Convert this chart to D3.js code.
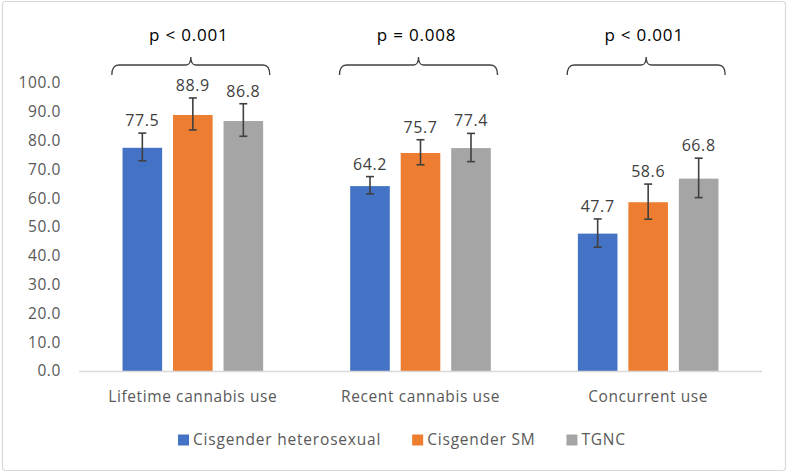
<!DOCTYPE html>
<html>
<head>
<meta charset="utf-8">
<script src="https://cdn.jsdelivr.net/npm/d3@7"></script>
<style>
  body { margin: 0; background: #fff; }
  svg { display: block; font-family: "Open Sans", sans-serif; }
</style>
</head>
<body>
<svg id="chart" width="789" height="474"></svg>
<script>
// data
var categories = ["Lifetime cannabis use", "Recent cannabis use", "Concurrent use"];
var groups = ["Cisgender heterosexual", "Cisgender SM", "TGNC"];
var heteroVals = [77.5, 64.2, 47.7];
var smVals = [88.9, 75.7, 58.6];
var tgncVals = [86.8, 77.4, 66.8];
// 95% CI ends
var heteroLow = [73.0, 61.5, 43.0], heteroHigh = [82.6, 67.5, 52.8];
var smLow = [83.7, 71.6, 52.7], smHigh = [94.8, 80.3, 64.9];
var tgncLow = [81.5, 72.7, 60.2], tgncHigh = [92.8, 82.5, 73.9];
var pLabels = ["p < 0.001", "p = 0.008", "p < 0.001"];
var yTicks = [0, 10, 20, 30, 40, 50, 60, 70, 80, 90, 100];
var colors = ["#4472C4", "#ED7D31", "#A5A5A5"];

var vals = [heteroVals, smVals, tgncVals];
var lows = [heteroLow, smLow, tgncLow];
var highs = [heteroHigh, smHigh, tgncHigh];

var svg = d3.select("svg#chart");
var margin = {top: 83, right: 27, bottom: 103, left: 79};
var width = 789 - margin.left - margin.right;
var height = 474 - margin.top - margin.bottom;

// border
svg.append("rect")
  .attr("x", 2.5).attr("y", 1.5)
  .attr("width", 783).attr("height", 469)
  .attr("rx", 3)
  .attr("fill", "none")
  .attr("stroke", "#d9d9d9")
  .attr("stroke-width", 1.2);

var g = svg.append("g")
  .attr("transform", `translate(${margin.left},${margin.top})`);

var x0 = d3.scaleBand().domain(categories).range([0, width]);
var x1 = d3.scaleBand().domain(groups)
  .range([0, x0.bandwidth()])
  .paddingInner(0.216).paddingOuter(0.862);
var y = d3.scaleLinear().domain([0, 100]).range([height, 0]);

// y axis labels
g.append("g")
  .attr("class", "yaxis")
  .selectAll("text")
  .data(yTicks)
  .enter().append("text")
  .attr("x", -18)
  .attr("y", d => y(d))
  .attr("dy", "0.35em")
  .attr("text-anchor", "end")
  .attr("font-size", "15.5px")
  .attr("letter-spacing", "0.6px")
  .attr("fill", "#595959")
  .text(d => d3.format(".1f")(d));

// bars
var rows = [];
categories.forEach(function(c, i){
  groups.forEach(function(s, j){
    rows.push({cat: c, grp: s, j: j, v: vals[j][i], lo: lows[j][i], hi: highs[j][i]});
  });
});

g.append("g").attr("class", "bars")
  .selectAll("rect")
  .data(rows)
  .enter().append("rect")
  .attr("x", d => x0(d.cat) + x1(d.grp))
  .attr("y", d => y(d.v))
  .attr("width", x1.bandwidth())
  .attr("height", d => height - y(d.v))
  .attr("fill", d => colors[d.j]);

// baseline
g.append("line")
  .attr("x1", 0).attr("x2", width)
  .attr("y1", height + 0.5).attr("y2", height + 0.5)
  .attr("stroke", "#d9d9d9")
  .attr("stroke-width", 1.3);

// error bars
var cap = 4;
var eb = g.append("g").attr("class", "errbars")
  .attr("stroke", "#404040")
  .attr("stroke-width", 1.6)
  .selectAll("g")
  .data(rows)
  .enter().append("g")
  .attr("transform", d => `translate(${x0(d.cat) + x1(d.grp) + x1.bandwidth()/2},0)`);
eb.append("line").attr("y1", d => y(d.lo)).attr("y2", d => y(d.hi));
eb.append("line").attr("x1", -cap).attr("x2", cap).attr("y1", d => y(d.hi)).attr("y2", d => y(d.hi));
eb.append("line").attr("x1", -cap).attr("x2", cap).attr("y1", d => y(d.lo)).attr("y2", d => y(d.lo));

// value labels
g.append("g").attr("class", "labels")
  .selectAll("text")
  .data(rows)
  .enter().append("text")
  .attr("x", d => x0(d.cat) + x1(d.grp) + x1.bandwidth()/2)
  .attr("y", d => y(d.hi) - 7)
  .attr("text-anchor", "middle")
  .attr("font-size", "16px")
  .attr("letter-spacing", "0.6px")
  .attr("fill", "#404040")
  .text(d => d.v.toFixed(1));

// x axis labels
g.append("g").attr("class", "xaxis")
  .selectAll("text")
  .data(categories)
  .enter().append("text")
  .attr("x", d => x0(d) + x0.bandwidth()/2)
  .attr("y", height + 26)
  .attr("dy", "0.35em")
  .attr("text-anchor", "middle")
  .attr("font-size", "15.5px")
  .attr("letter-spacing", "0.6px")
  .attr("fill", "#595959")
  .text(d => d);

// braces + p values
var braceHalf = 79, braceTop = -18, braceEnd = -8, bracePeak = -26;
function bracePath(cx){
  let l = cx - braceHalf, r = cx + braceHalf, t = braceTop;
  return `M${l},${braceEnd} Q${l},${t} ${l+7},${t} L${cx-5},${t} Q${cx},${t} ${cx},${bracePeak}` +
         ` Q${cx},${t} ${cx+5},${t} L${r-7},${t} Q${r},${t} ${r},${braceEnd}`;
}
var br = g.append("g").attr("class", "braces")
  .selectAll("g")
  .data(categories)
  .enter().append("g");
br.append("path")
  .attr("d", d => bracePath(x0(d) + x0.bandwidth()/2 - 2))
  .attr("fill", "none")
  .attr("stroke", "#404040")
  .attr("stroke-width", 1.3);
br.append("text")
  .attr("x", d => x0(d) + x0.bandwidth()/2 - 4)
  .attr("y", -48)
  .attr("dy", "0.35em")
  .attr("text-anchor", "middle")
  .attr("font-size", "17px")
  .attr("letter-spacing", "0.8px")
  .attr("fill", "#000")
  .text((d, i) => pLabels[i]);

// legend
var leg = svg.append("g").attr("class", "legend")
  .attr("transform", "translate(178,440)");
var lx = 0;
groups.forEach(function(s, j){
  let item = leg.append("g").attr("transform", `translate(${lx},0)`);
  item.append("rect")
    .attr("x", 0).attr("y", -5.5)
    .attr("width", 11).attr("height", 11)
    .attr("fill", colors[j]);
  let t = item.append("text")
    .attr("x", 15)
    .attr("dy", "0.35em")
    .attr("font-size", "15.5px")
    .attr("letter-spacing", "0.8px")
    .attr("fill", "#595959")
    .text(s);
  lx += 15 + t.node().getComputedTextLength() + 31;
});
</script>
</body>
</html>
